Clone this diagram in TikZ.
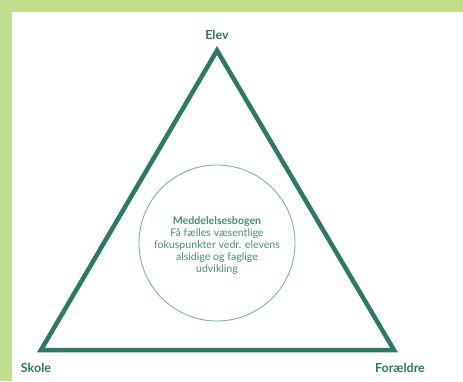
\documentclass[tikz,border=0pt]{standalone}
\usepackage{fontspec}
\setmainfont{Lato}
\usetikzlibrary{positioning}
\definecolor{bggreen}{HTML}{C0DE8E}
\definecolor{teal}{HTML}{2B7A66}
\definecolor{softteal}{HTML}{7FB3A3}
\tikzset{
  corner/.style={font=\bfseries\fontsize{12.5}{14}\selectfont, text=teal},
  centre/.style={font=\fontsize{10.6}{12}\selectfont, text=teal!85!white, align=center}
}
\begin{document}
\begin{tikzpicture}[x=1pt,y=-1pt]
				% background and panel
				\fill[bggreen] (0,0) rectangle (463,381);
				\fill[white] (12,12) rectangle (463,381);
				\useasboundingbox (0,0) rectangle (463,381);
				% corners of the triangle
				\coordinate (top) at (217,50.5);
				\coordinate (left) at (41,350);
				\coordinate (right) at (394,350);
				\draw[teal, line width=4.5pt, miter limit=4] (top) -- (left) -- (right) -- cycle;
				% labels
				\node[corner] (elev) at (217,35) {Elev};
				\node[corner] (skole) at (36,368) {Skole};
				\node[corner] (foraeldre) at (400,368) {Forældre};
				% circle in the middle
				\draw[softteal, line width=0.9pt] (217,243) circle (78);
				\node[centre] (bog) at (217,246) {\textbf{Meddelelsesbogen}\\Få fælles væsentlige\\fokuspunkter vedr. elevens\\alsidige og faglige\\udvikling};
			\end{tikzpicture}
\end{document}
